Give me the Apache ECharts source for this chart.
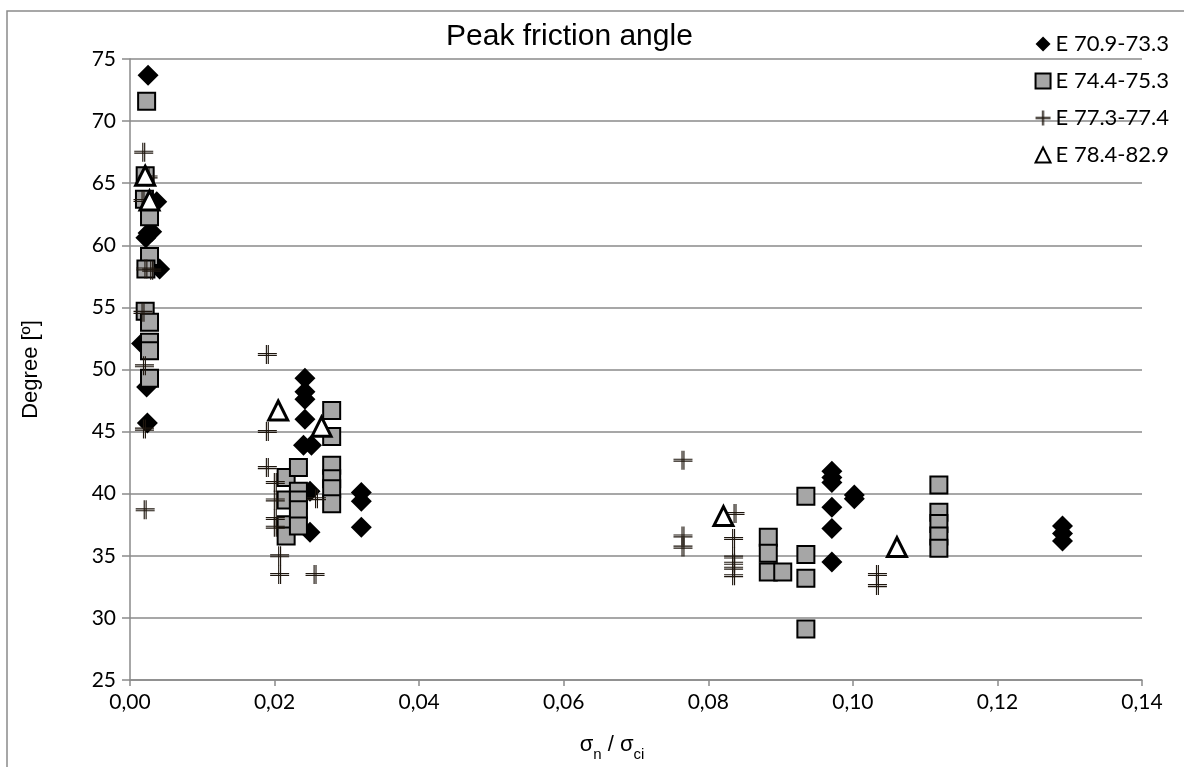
<!DOCTYPE html>
<html>
<head>
<meta charset="utf-8">
<script src="https://cdn.jsdelivr.net/npm/echarts@6/dist/echarts.min.js"></script>
<style>
  html, body { margin: 0; padding: 0; background: #fff; }
  #chart { width: 1184px; height: 767px; }
</style>
</head>
<body>
<div id="chart"></div>
<script>
// series names (legend)
const seriesNames = ['E 70.9-73.3', 'E 74.4-75.3', 'E 77.3-77.4', 'E 78.4-82.9'];

// tick labels
const xTickLabels = ['0,00', '0,02', '0,04', '0,06', '0,08', '0,10', '0,12', '0,14'];

// E 70.9-73.3 (diamonds): [sigma_n / sigma_ci, degree]
const diamondPts = [
  [0.0025, 73.7], [0.0037, 63.5], [0.0030, 61.1], [0.0025, 61.0], [0.0022, 60.6],
  [0.0041, 58.1], [0.0016, 52.1], [0.0023, 48.6], [0.0024, 45.7],
  [0.0242, 49.3], [0.0242, 48.2], [0.0242, 47.6], [0.0242, 46.0], [0.0240, 43.9],
  [0.0251, 43.9], [0.0249, 40.2], [0.0249, 36.9],
  [0.0320, 40.1], [0.0320, 39.4], [0.0320, 37.3],
  [0.0971, 41.8], [0.0971, 41.3], [0.0971, 40.9], [0.0971, 38.9], [0.0971, 37.2],
  [0.0971, 34.5], [0.1002, 39.9], [0.1002, 39.6],
  [0.1290, 37.4], [0.1290, 36.8], [0.1290, 36.2]
];

// E 74.4-75.3 (squares)
const squarePts = [
  [0.0023, 71.6], [0.0021, 65.6], [0.0020, 63.7], [0.0027, 62.3], [0.0027, 59.1],
  [0.0022, 58.1], [0.0021, 54.7], [0.0027, 53.8], [0.0027, 52.2], [0.0027, 51.5],
  [0.0027, 49.3],
  [0.0216, 41.3], [0.0216, 39.5], [0.0216, 37.5], [0.0216, 36.6],
  [0.0233, 42.1], [0.0233, 40.2], [0.0233, 39.5], [0.0233, 38.7], [0.0233, 37.4],
  [0.0279, 46.7], [0.0279, 44.6], [0.0279, 42.3], [0.0279, 41.2], [0.0279, 40.4],
  [0.0279, 39.2],
  [0.0883, 36.5], [0.0883, 35.2], [0.0883, 33.7], [0.0903, 33.7],
  [0.0935, 39.8], [0.0935, 35.1], [0.0935, 33.2], [0.0935, 29.1],
  [0.1119, 40.7], [0.1119, 38.5], [0.1119, 37.6], [0.1119, 36.6], [0.1119, 35.6]
];

// E 77.3-77.4 (plus)
const plusPts = [
  [0.0019, 67.5], [0.0025, 65.5], [0.0018, 63.6], [0.0022, 58.1], [0.0030, 58.0],
  [0.0018, 54.6], [0.0020, 50.3], [0.0020, 45.2], [0.0021, 38.7],
  [0.0190, 51.2], [0.0190, 45.0], [0.0190, 42.1], [0.0201, 40.9], [0.0201, 39.5],
  [0.0201, 38.0], [0.0201, 37.3], [0.0207, 35.0], [0.0207, 33.5],
  [0.0258, 39.6], [0.0256, 33.5],
  [0.0765, 42.7], [0.0765, 36.6], [0.0765, 35.7],
  [0.0837, 38.4], [0.0835, 36.4], [0.0835, 34.9], [0.0835, 34.4], [0.0835, 34.0],
  [0.0835, 33.4],
  [0.1034, 33.5], [0.1034, 32.6]
];

// E 78.4-82.9 (triangles)
const trianglePts = [
  [0.0021, 65.6], [0.0027, 63.6], [0.0205, 46.7], [0.0265, 45.4],
  [0.0821, 38.2], [0.1061, 35.7]
];

const chart = echarts.init(document.getElementById('chart'));
const gridColor = '#8a8a8a';
const tickFont = 'Lato, "Open Sans", sans-serif';
const arial = '"Liberation Sans", Arial, sans-serif';

const option = {
  backgroundColor: '#fff',
  animation: false,
  title: {
    text: 'Peak friction angle',
    left: 441,
    top: 17,
    textStyle: { fontFamily: arial, fontSize: 30, fontWeight: 'normal', color: '#000' }
  },
  graphic: [{
    type: 'rect',
    shape: { x: 7, y: 11, width: 1250, height: 800 },
    style: { fill: 'none', stroke: '#8a8a8a', lineWidth: 1.5 },
    silent: true
  }],
  legend: {
    orient: 'vertical',
    right: 10,
    top: 28,
    itemWidth: 15,
    itemHeight: 15,
    itemGap: 15,
    textStyle: { fontFamily: tickFont, fontSize: 22, color: '#000', lineHeight: 21 },
    data: seriesNames
  },
  grid: { left: 130, right: 42, top: 59, bottom: 83 },
  xAxis: {
    type: 'value',
    min: 0,
    max: 0.14,
    interval: 0.02,
    name: '{a|σ}{s|n}{a| / σ}{s|ci}',
    nameLocation: 'middle',
    nameGap: 54,
    nameTextStyle: {
      padding: [0, 48, 0, 0],
      rich: {
        a: { fontFamily: arial, fontSize: 22, color: '#000', verticalAlign: 'bottom', padding: [0, 0, 6, 0] },
        s: { fontFamily: arial, fontSize: 15, color: '#000', verticalAlign: 'bottom' }
      }
    },
    axisLine: { show: true, lineStyle: { color: gridColor, width: 1.5 } },
    axisTick: { show: true, length: 6, lineStyle: { color: gridColor, width: 1.5 } },
    splitLine: { show: false },
    axisLabel: {
      fontFamily: tickFont, fontSize: 21, color: '#000', margin: 12,
      formatter: v => xTickLabels[Math.round(v / 0.02)]
    }
  },
  yAxis: {
    type: 'value',
    min: 25,
    max: 75,
    interval: 5,
    name: 'Degree [º]',
    nameLocation: 'middle',
    nameGap: 88,
    nameTextStyle: { fontFamily: arial, fontSize: 22, color: '#000' },
    axisLine: { show: true, lineStyle: { color: gridColor, width: 1.5 } },
    axisTick: { show: true, length: 8, lineStyle: { color: gridColor, width: 1.5 } },
    splitLine: { show: true, lineStyle: { color: gridColor, width: 1.5 } },
    axisLabel: { fontFamily: tickFont, fontSize: 21, color: '#000', margin: 14 }
  },
  series: [
    {
      name: seriesNames[0],
      type: 'scatter',
      symbol: 'diamond',
      symbolSize: 21,
      itemStyle: { color: '#000', opacity: 1 },
      z: 2,
      data: diamondPts
    },
    {
      name: seriesNames[1],
      type: 'scatter',
      symbol: 'rect',
      symbolSize: 17,
      itemStyle: { color: '#a6a6a6', borderColor: '#000', borderWidth: 2, opacity: 1 },
      z: 3,
      data: squarePts
    },
    {
      name: seriesNames[2],
      type: 'scatter',
      symbol: 'path://M0,8.4h20v1.2h-20z M0,10.4h20v1.2h-20z M8.4,0h1.2v20h-1.2z M10.4,0h1.2v20h-1.2z',
      symbolSize: 19,
      itemStyle: { color: '#1e160e', opacity: 1 },
      z: 4,
      data: plusPts
    },
    {
      name: seriesNames[3],
      type: 'scatter',
      symbol: 'triangle',
      symbolSize: 19,
      itemStyle: { color: '#fff', borderColor: '#000', borderWidth: 3, opacity: 1 },
      z: 5,
      data: trianglePts
    }
  ]
};

chart.setOption(option);
window.addEventListener('resize', () => chart.resize());
</script>
</body>
</html>
